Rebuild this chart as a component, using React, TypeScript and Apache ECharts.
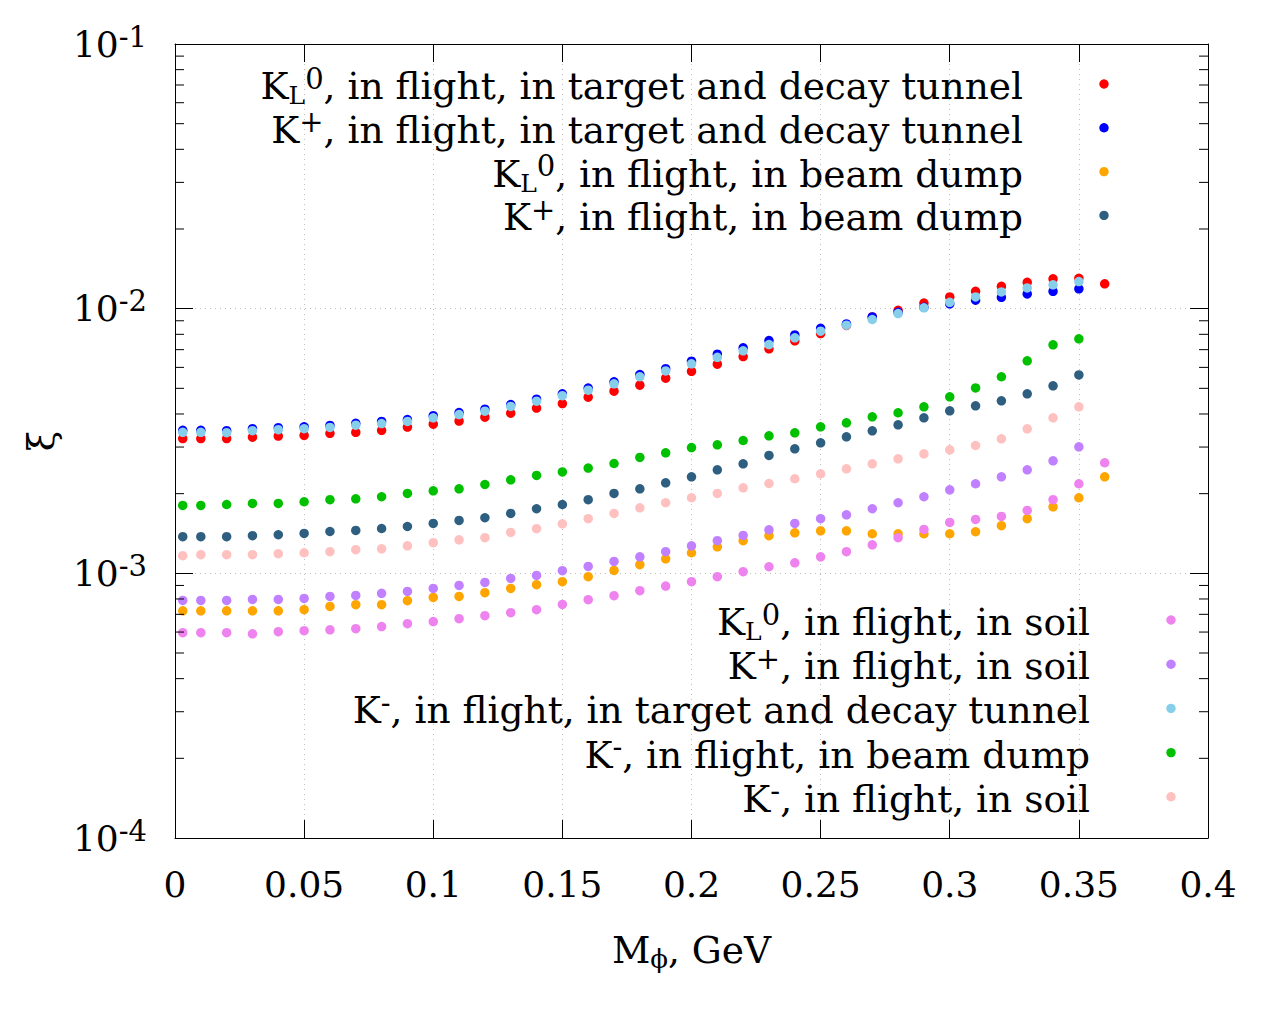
import React, { useEffect, useRef } from 'react';
import * as echarts from 'echarts';

const FONT = 'DejaVu Serif';

// Meson masses M_phi (GeV)
const masses = [0.003, 0.01, 0.02, 0.03, 0.04, 0.05, 0.06, 0.07, 0.08, 0.09, 0.1, 0.11, 0.12, 0.13, 0.14, 0.15, 0.16, 0.17, 0.18, 0.19, 0.2, 0.21, 0.22, 0.23, 0.24, 0.25, 0.26, 0.27, 0.28, 0.29, 0.3, 0.31, 0.32, 0.33, 0.34, 0.35];
const massesLong = [...masses, 0.36];

// xi values per channel
const kl0Target = [3.23e-3, 3.23e-3, 3.23e-3, 3.27e-3, 3.30e-3, 3.32e-3, 3.38e-3, 3.41e-3, 3.47e-3, 3.57e-3, 3.66e-3, 3.76e-3, 3.89e-3, 4.03e-3, 4.21e-3, 4.38e-3, 4.63e-3, 4.88e-3, 5.14e-3, 5.46e-3, 5.80e-3, 6.17e-3, 6.59e-3, 7.05e-3, 7.56e-3, 8.05e-3, 8.64e-3, 9.31e-3, 9.86e-3, 1.05e-2, 1.108e-2, 1.163e-2, 1.215e-2, 1.258e-2, 1.296e-2, 1.303e-2, 1.241e-2];
const kpTarget = [3.47e-3, 3.47e-3, 3.46e-3, 3.52e-3, 3.55e-3, 3.58e-3, 3.62e-3, 3.69e-3, 3.75e-3, 3.81e-3, 3.94e-3, 4.05e-3, 4.17e-3, 4.34e-3, 4.55e-3, 4.77e-3, 5.01e-3, 5.29e-3, 5.64e-3, 5.93e-3, 6.33e-3, 6.73e-3, 7.11e-3, 7.58e-3, 7.96e-3, 8.43e-3, 8.76e-3, 9.31e-3, 9.69e-3, 1.012e-2, 1.043e-2, 1.076e-2, 1.104e-2, 1.137e-2, 1.163e-2, 1.188e-2];
const kl0Dump = [7.22e-4, 7.22e-4, 7.22e-4, 7.22e-4, 7.22e-4, 7.29e-4, 7.50e-4, 7.61e-4, 7.61e-4, 7.88e-4, 8.11e-4, 8.18e-4, 8.45e-4, 8.77e-4, 9.06e-4, 9.30e-4, 9.71e-4, 1.026e-3, 1.078e-3, 1.135e-3, 1.196e-3, 1.26e-3, 1.328e-3, 1.387e-3, 1.423e-3, 1.448e-3, 1.448e-3, 1.411e-3, 1.411e-3, 1.411e-3, 1.411e-3, 1.436e-3, 1.513e-3, 1.608e-3, 1.784e-3, 1.930e-3, 2.316e-3];
const kpDump = [1.375e-3, 1.375e-3, 1.375e-3, 1.387e-3, 1.399e-3, 1.415e-3, 1.439e-3, 1.452e-3, 1.477e-3, 1.503e-3, 1.543e-3, 1.584e-3, 1.622e-3, 1.684e-3, 1.754e-3, 1.82e-3, 1.897e-3, 2.003e-3, 2.087e-3, 2.198e-3, 2.316e-3, 2.462e-3, 2.594e-3, 2.788e-3, 2.954e-3, 3.113e-3, 3.28e-3, 3.456e-3, 3.641e-3, 3.869e-3, 4.111e-3, 4.294e-3, 4.485e-3, 4.766e-3, 5.11e-3, 5.62e-3];
const kl0Soil = [5.97e-4, 5.97e-4, 5.97e-4, 5.91e-4, 6.02e-4, 6.07e-4, 6.12e-4, 6.18e-4, 6.29e-4, 6.45e-4, 6.57e-4, 6.74e-4, 6.92e-4, 7.10e-4, 7.29e-4, 7.63e-4, 7.95e-4, 8.23e-4, 8.60e-4, 8.95e-4, 9.30e-4, 9.71e-4, 1.014e-3, 1.059e-3, 1.096e-3, 1.155e-3, 1.207e-3, 1.282e-3, 1.363e-3, 1.465e-3, 1.557e-3, 1.598e-3, 1.640e-3, 1.728e-3, 1.897e-3, 2.18e-3, 2.617e-3];
const kpSoil = [7.90e-4, 7.90e-4, 7.90e-4, 7.97e-4, 7.97e-4, 8.04e-4, 8.18e-4, 8.25e-4, 8.40e-4, 8.54e-4, 8.77e-4, 9.00e-4, 9.24e-4, 9.57e-4, 9.82e-4, 1.023e-3, 1.062e-3, 1.109e-3, 1.155e-3, 1.207e-3, 1.271e-3, 1.328e-3, 1.390e-3, 1.461e-3, 1.543e-3, 1.608e-3, 1.664e-3, 1.754e-3, 1.848e-3, 1.947e-3, 2.069e-3, 2.18e-3, 2.316e-3, 2.462e-3, 2.662e-3, 3.007e-3];
const kmTarget = [3.41e-3, 3.41e-3, 3.40e-3, 3.46e-3, 3.49e-3, 3.52e-3, 3.56e-3, 3.63e-3, 3.68e-3, 3.75e-3, 3.87e-3, 3.98e-3, 4.10e-3, 4.27e-3, 4.47e-3, 4.69e-3, 4.92e-3, 5.20e-3, 5.53e-3, 5.82e-3, 6.19e-3, 6.55e-3, 6.93e-3, 7.32e-3, 7.76e-3, 8.22e-3, 8.66e-3, 9.10e-3, 9.58e-3, 1.007e-2, 1.057e-2, 1.108e-2, 1.157e-2, 1.198e-2, 1.230e-2, 1.266e-2];
const kmDump = [1.805e-3, 1.805e-3, 1.82e-3, 1.837e-3, 1.837e-3, 1.864e-3, 1.897e-3, 1.913e-3, 1.947e-3, 2.003e-3, 2.051e-3, 2.087e-3, 2.166e-3, 2.257e-3, 2.343e-3, 2.415e-3, 2.50e-3, 2.60e-3, 2.74e-3, 2.854e-3, 2.988e-3, 3.06e-3, 3.176e-3, 3.308e-3, 3.396e-3, 3.578e-3, 3.705e-3, 3.903e-3, 4.043e-3, 4.257e-3, 4.645e-3, 5.02e-3, 5.53e-3, 6.35e-3, 7.30e-3, 7.69e-3];
const kmSoil = [1.166e-3, 1.176e-3, 1.176e-3, 1.176e-3, 1.186e-3, 1.196e-3, 1.207e-3, 1.228e-3, 1.238e-3, 1.271e-3, 1.305e-3, 1.339e-3, 1.363e-3, 1.427e-3, 1.474e-3, 1.539e-3, 1.608e-3, 1.684e-3, 1.769e-3, 1.848e-3, 1.930e-3, 2.003e-3, 2.105e-3, 2.185e-3, 2.277e-3, 2.378e-3, 2.483e-3, 2.594e-3, 2.709e-3, 2.829e-3, 2.93e-3, 3.041e-3, 3.224e-3, 3.516e-3, 3.869e-3, 4.257e-3];

// Legend labels (rich-text markup)
const topLegendLabels = [
  '{b|K}{sub|L}{sup|0}{b|, in flight, in target and decay tunnel}',
  '{b|K}{sup|+}{b|, in flight, in target and decay tunnel}',
  '{b|K}{sub|L}{sup|0}{b|, in flight, in beam dump}',
  '{b|K}{sup|+}{b|, in flight, in beam dump}',
];
const bottomLegendLabels = [
  '{b|K}{sub|L}{sup|0}{b|, in flight, in soil}',
  '{b|K}{sup|+}{b|, in flight, in soil}',
  '{b|K}{sup|-}{b|, in flight, in target and decay tunnel}',
  '{b|K}{sup|-}{b|, in flight, in beam dump}',
  '{b|K}{sup|-}{b|, in flight, in soil}',
];

const yMinorTicks = [0.0002, 0.0003, 0.0004, 0.0005, 0.0006, 0.0007, 0.0008, 0.0009, 0.002, 0.003, 0.004, 0.005, 0.006, 0.007, 0.008, 0.009, 0.02, 0.03, 0.04, 0.05, 0.06, 0.07, 0.08, 0.09];

const COLORS = {
  red: '#ff0000',
  blue: '#0000ff',
  orange: '#ffa500',
  slate: '#2e5f80',
  violet: '#ee82ee',
  purple: '#c080ff',
  sky: '#87ceeb',
  green: '#00c000',
  pink: '#ffc0c0',
};

const seriesDefs = [
  { name: 'KL0 target', x: massesLong, y: kl0Target, color: COLORS.red },
  { name: 'K+ target', x: masses, y: kpTarget, color: COLORS.blue },
  { name: 'KL0 dump', x: massesLong, y: kl0Dump, color: COLORS.orange },
  { name: 'K+ dump', x: masses, y: kpDump, color: COLORS.slate },
  { name: 'KL0 soil', x: massesLong, y: kl0Soil, color: COLORS.violet },
  { name: 'K+ soil', x: masses, y: kpSoil, color: COLORS.purple },
  { name: 'K- target', x: masses, y: kmTarget, color: COLORS.sky },
  { name: 'K- dump', x: masses, y: kmDump, color: COLORS.green },
  { name: 'K- soil', x: masses, y: kmSoil, color: COLORS.pink },
];

function makeRich(colorKey: 'color' | 'fill', main: number, sup: number, sub: number) {
  // baselines: main at ~35 from line top, sup raised ~14, sub lowered ~7.7
  const mainBase = 22 + 0.346 * main;
  const supL = 2 * (mainBase - 14 - 0.346 * sup);
  const subL = 2 * (44 + 0.346 * sub - (mainBase + 7.7));
  return {
    b: { fontFamily: FONT, fontSize: main, lineHeight: 44, [colorKey]: '#000' },
    sup: { fontFamily: FONT, fontSize: sup, lineHeight: supL, verticalAlign: 'top', [colorKey]: '#000' },
    sub: { fontFamily: FONT, fontSize: sub, lineHeight: subL, verticalAlign: 'bottom', [colorKey]: '#000' },
  };
}

function buildOption() {
  const axisRich = makeRich('color', 36, 29, 25);
  const nameRich = makeRich('color', 37.5, 29, 26);
  const gRich = makeRich('fill', 37.5, 29, 25);
  const axisLine = { show: true, onZero: false, lineStyle: { color: '#000', width: 1 } };
  const tick = { show: true, inside: true, length: 18, lineStyle: { color: '#000', width: 1 } };
  const grid = { show: true, lineStyle: { color: '#bdbdbd', type: [1, 4], width: 1 } };

  const scatter = seriesDefs.map((d) => ({
    type: 'scatter',
    name: d.name,
    xAxisIndex: 0,
    yAxisIndex: 0,
    symbol: 'circle',
    symbolSize: 9.5,
    itemStyle: { color: d.color, opacity: 1 },
    data: d.x.map((m, i) => [m, d.y[i]]),
    z: 3,
  }));

  const minorTickSeries = {
    type: 'custom',
    xAxisIndex: 0,
    yAxisIndex: 0,
    silent: true,
    clip: false,
    z: 4,
    encode: { x: 0, y: 1 },
    data: yMinorTicks.map((v) => [0, v]),
    renderItem: (_p: any, api: any) => {
      const v = api.value(1);
      const l = api.coord([0, v]);
      const r = api.coord([0.4, v]);
      const st = { stroke: '#000', lineWidth: 1 };
      return {
        type: 'group',
        children: [
          { type: 'line', shape: { x1: l[0], y1: l[1], x2: l[0] + 9, y2: l[1] }, style: st },
          { type: 'line', shape: { x1: r[0] - 9, y1: r[1], x2: r[0], y2: r[1] }, style: st },
        ],
      };
    },
  };

  const graphics: any[] = [];
  const topDefs = [seriesDefs[0], seriesDefs[1], seriesDefs[2], seriesDefs[3]];
  const botDefs = [seriesDefs[4], seriesDefs[5], seriesDefs[6], seriesDefs[7], seriesDefs[8]];
  const addLegend = (labels: string[], defs: any[], textRight: number, markX: number, y0: number, step: number) => {
    labels.forEach((lab, i) => {
      const y = y0 + i * step;
      graphics.push({
        type: 'text',
        x: textRight,
        y: y + 2,
        z: 10,
        style: {
          text: lab,
          rich: gRich,
          fontFamily: FONT,
          fontSize: 37.5,
          fill: '#000',
          align: 'right',
          verticalAlign: 'middle',
          textAlign: 'right',
          textVerticalAlign: 'middle',
        },
      });
      graphics.push({
        type: 'circle',
        z: 10,
        shape: { cx: markX, cy: y, r: 4.7 },
        style: { fill: defs[i].color },
      });
    });
  };
  addLegend(topLegendLabels, topDefs, 1023, 1104, 84, 43.8);
  addLegend(bottomLegendLabels, botDefs, 1090, 1171, 620, 44.2);

  return {
    animation: false,
    backgroundColor: '#ffffff',
    textStyle: { fontFamily: FONT },
    grid: { left: 175, top: 44, right: 72, bottom: 186, outerBoundsMode: 'none' },
    xAxis: [
      {
        type: 'value',
        gridIndex: 0,
        position: 'bottom',
        min: 0,
        max: 0.4,
        interval: 0.05,
        axisLine,
        axisTick: tick,
        axisLabel: { fontFamily: FONT, fontSize: 36, lineHeight: 36, color: '#000', margin: 28 },
        splitLine: grid,
        name: '{b|M}{sub|ϕ}{b|, GeV}',
        nameLocation: 'middle',
        nameGap: 90,
        nameMoveOverlap: false,
        nameTextStyle: { rich: nameRich, fontFamily: FONT, fontSize: 37.5, color: '#000' },
      },
      {
        type: 'value',
        gridIndex: 0,
        position: 'top',
        min: 0,
        max: 0.4,
        interval: 0.05,
        axisLine,
        axisTick: tick,
        axisLabel: { show: false },
        splitLine: { show: false },
      },
    ],
    yAxis: [
      {
        type: 'log',
        logBase: 10,
        gridIndex: 0,
        position: 'left',
        min: 0.0001,
        max: 0.1,
        axisLine,
        axisTick: tick,
        axisLabel: {
          margin: 28,
          color: '#000',
          fontFamily: FONT,
          fontSize: 36,
          formatter: (v: number) => '{b|10}{sup|' + String(Math.round(Math.log10(v))) + '}',
          rich: axisRich,
        },
        splitLine: grid,
        name: 'ξ',
        nameLocation: 'middle',
        nameRotate: 90,
        nameGap: 115,
        nameMoveOverlap: false,
        nameTextStyle: { fontFamily: FONT, fontSize: 37, color: '#000' },
      },
      {
        type: 'log',
        logBase: 10,
        gridIndex: 0,
        position: 'right',
        min: 0.0001,
        max: 0.1,
        axisLine,
        axisTick: tick,
        axisLabel: { show: false },
        splitLine: { show: false },
      },
    ],
    series: [...scatter, minorTickSeries],
    graphic: graphics,
  };
}

export default function App() {
  const ref = useRef<HTMLDivElement>(null);
  useEffect(() => {
    if (!ref.current) return;
    const chart = echarts.init(ref.current, undefined, { renderer: 'svg' });
    chart.setOption(buildOption() as any);
    return () => chart.dispose();
  }, []);
  return (
    <div
      ref={ref}
      style={{ position: 'fixed', left: 0, top: 0, width: 1280, height: 1024, background: '#fff' }}
    />
  );
}
